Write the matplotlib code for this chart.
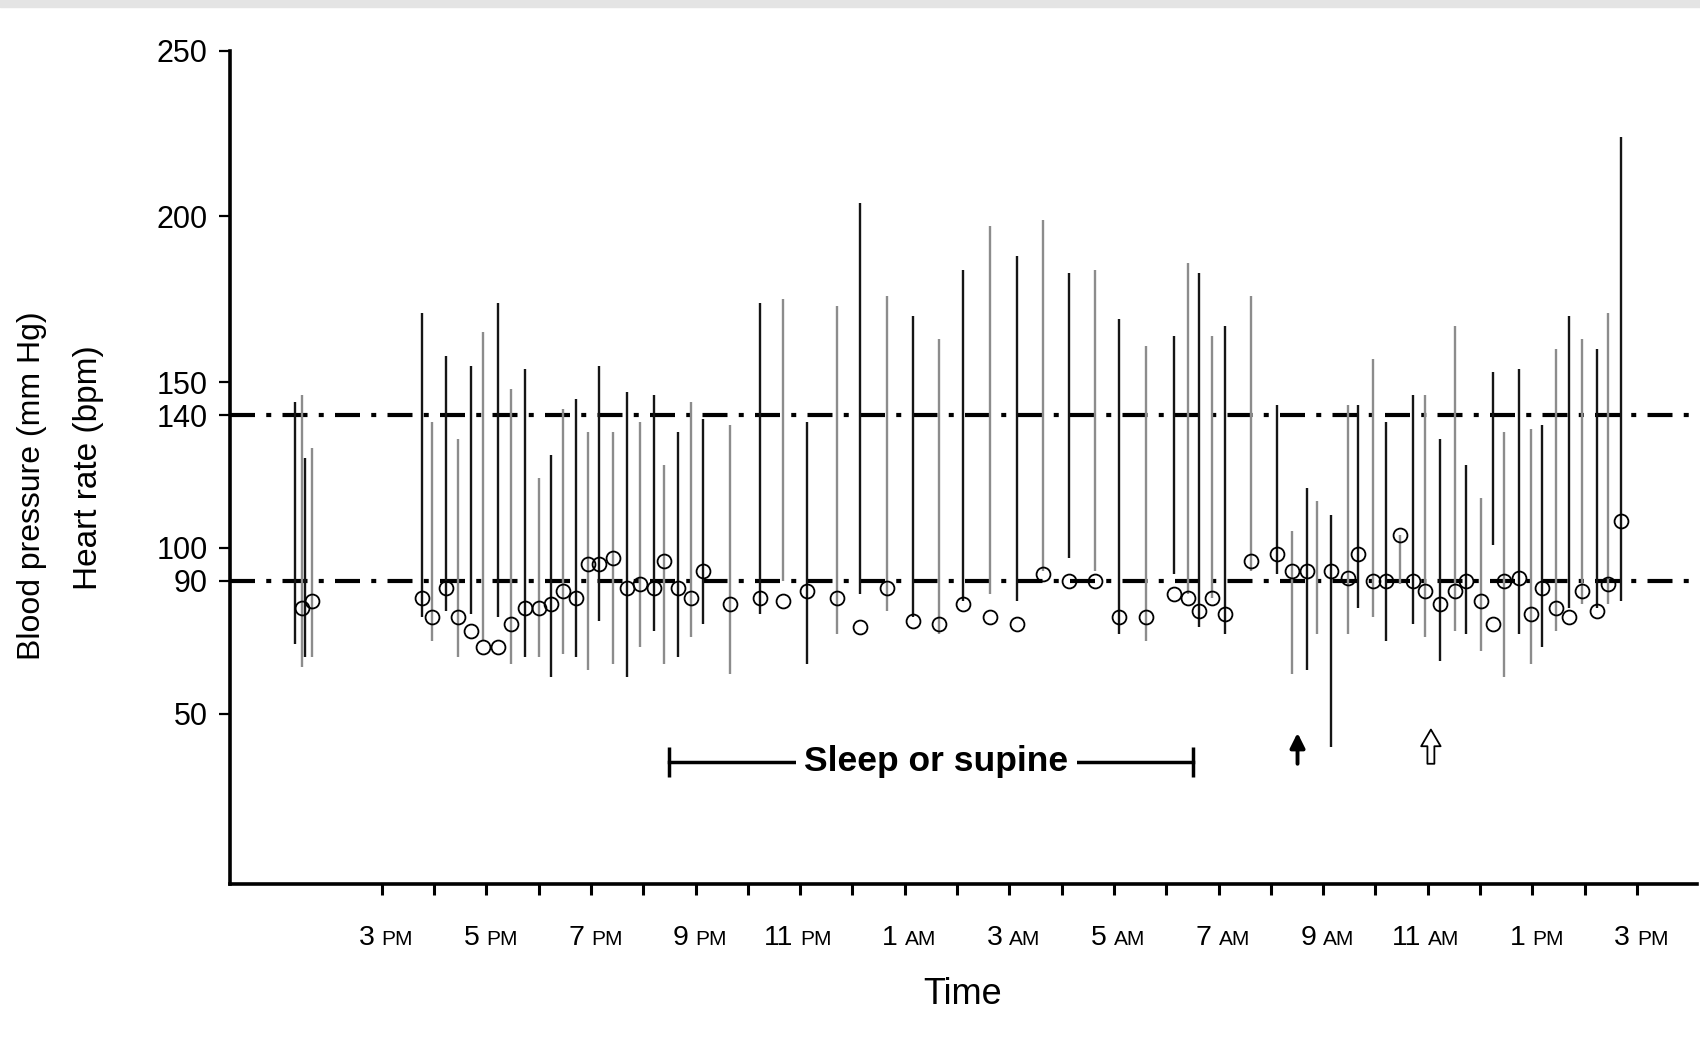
import numpy as np
import matplotlib.pyplot as plt

# readings: hour of day (12 = noon on day 1, 36 = noon on day 2)
time_h = [13.35, 13.47, 13.54, 13.66,
          15.78, 15.97, 16.22, 16.45, 16.70, 16.94, 17.23, 17.47, 17.74,
          18.01, 18.23, 18.46, 18.71, 18.95, 19.16, 19.43, 19.69, 19.93,
          20.21, 20.40, 20.67, 20.91, 21.15, 21.66, 22.23, 22.68, 23.14,
          23.70, 24.14, 24.67, 25.16, 25.66, 26.11, 26.63, 27.14, 27.65,
          28.14, 28.64, 29.10, 29.62, 30.15, 30.41, 30.63, 30.87, 31.13,
          31.63, 32.12, 32.41, 32.70, 32.89, 33.15, 33.47, 33.67, 33.96,
          34.20, 34.47, 34.72, 34.95, 35.23, 35.53, 35.73, 36.01, 36.25,
          36.46, 36.74, 36.97, 37.19, 37.46, 37.70, 37.94, 38.23, 38.45,
          38.69]
systolic = [144, 146, 127, 130,
            171, 138, 158, 133, 155, 165, 174, 148, 154,
            121, 128, 142, 145, 135, 155, 135, 147, 138,
            146, 125, 135, 144, 139, 137, 174, 175, 138,
            173, 204, 176, 170, 163, 184, 197, 188, 199,
            183, 184, 169, 161, 164, 186, 183, 164, 167,
            176, 143, 105, 118, 114, 110, 143, 143, 157,
            138, 104, 146, 146, 133, 167, 125, 115, 153,
            135, 154, 136, 137, 160, 170, 163, 160, 171,
            224]
diastolic = [71, 64, 67, 67,
             79, 72, 81, 67, 80, 72, 79, 65, 67,
             67, 61, 68, 67, 63, 78, 65, 61, 70,
             75, 65, 67, 73, 77, 62, 80, 90, 65,
             74, 86, 81, 79, 74, 84, 86, 84, 93,
             97, 93, 74, 72, 92, 86, 76, 85, 74,
             93, 92, 62, 63, 74, 40, 74, 82, 79,
             72, 89, 77, 73, 66, 75, 74, 69, 101,
             61, 74, 65, 70, 75, 82, 83, 82, 83,
             84]
heart_rate = [np.nan, 82, np.nan, 84,
              85, 79, 88, 79, 75, 70, 70, 77, 82,
              82, 83, 87, 85, 95, 95, 97, 88, 89,
              88, 96, 88, 85, 93, 83, 85, 84, 87,
              85, 76, 88, 78, 77, 83, 79, 77, 92,
              90, 90, 79, 79, 86, 85, 81, 85, 80,
              96, 98, 93, 93, np.nan, 93, 91, 98, 90,
              90, 104, 90, 87, 83, 87, 90, 84, 77,
              90, 91, 80, 88, 82, 79, 87, 81, 89,
              108]

hour_ticks = list(range(15, 40))
x_label_hours = [15, 17, 19, 21, 23, 25, 27, 29, 31, 33, 35, 37, 39]
x_label_nums = ['3', '5', '7', '9', '11', '1', '3', '5', '7', '9', '11', '1', '3']
x_label_ampm = ['PM', 'PM', 'PM', 'PM', 'PM', 'AM', 'AM', 'AM', 'AM', 'AM', 'AM', 'PM', 'PM']
y_ticks = [50, 90, 100, 140, 150, 200, 250]
limits = [140, 90]

sleep_start, sleep_end, sleep_y = 20.49, 30.52, 35.4
arrow_hours = [32.51, 35.06]

plt.rcParams['font.family'] = ['Liberation Sans', 'DejaVu Sans']

fig = plt.figure(figsize=(17, 10.37), dpi=100)
# faint grey strip left by the scan along the top edge
fig.patches.append(plt.Rectangle((0, 0.993), 1, 0.007, transform=fig.transFigure,
                                 color='#e4e4e4', zorder=0))
ax = fig.add_axes([0.1353, 0.148, 0.8627, 0.803])

# threshold lines
for lim in limits:
    ax.axhline(lim, color='black', lw=3, dashes=(6, 2.7, 1.2, 2.7), zorder=1)

# blood pressure ranges, alternating dark / grey like the scan
colors = ['#151515' if i % 2 == 0 else '#8c8c8c' for i in range(len(time_h))]
ax.vlines(time_h, diastolic, systolic, colors=colors, lw=1.7, zorder=2)

# heart rate
ax.plot(time_h, heart_rate, 'o', mfc='none', mec='black', ms=10, mew=1.3, zorder=3)

# sleep bar
ax.plot([sleep_start, sleep_end], [sleep_y, sleep_y], color='black', lw=2.5, zorder=2)
ax.plot([sleep_start, sleep_end], [sleep_y, sleep_y], linestyle='none', marker='|',
        ms=22, mew=2.5, color='black', zorder=2)
ax.text((sleep_start + sleep_end) / 2 + 0.1, sleep_y, 'Sleep or supine', fontsize=25.5,
        fontweight='bold', ha='center', va='center', zorder=3,
        bbox=dict(facecolor='white', edgecolor='none', pad=6))

# arrows
ax.annotate('', xy=(arrow_hours[0], 45), xytext=(arrow_hours[0], 34),
            arrowprops=dict(arrowstyle='-|>', lw=2.8, color='black', mutation_scale=22))
ax.annotate('', xy=(arrow_hours[1], 46), xytext=(arrow_hours[1], 34),
            arrowprops=dict(arrowstyle='simple,head_width=0.7,head_length=0.6,tail_width=0.25',
                            fc='white', ec='black', lw=1.3, mutation_scale=20))

ax.set_xlim(12.1, 40.14)
ax.set_ylim(-1.3, 250)

ax.spines['top'].set_visible(False)
ax.spines['right'].set_visible(False)
ax.spines['left'].set_linewidth(2.6)
ax.spines['bottom'].set_linewidth(2.6)

ax.set_xticks(hour_ticks)
ax.set_xticklabels([])
ax.tick_params(axis='x', direction='out', length=8, width=2.2)
ax.set_yticks(y_ticks)
ax.set_yticklabels([str(t) for t in y_ticks], fontsize=22)
ax.tick_params(axis='y', direction='out', length=8, width=1.6, pad=8)

for h, num, ampm in zip(x_label_hours, x_label_nums, x_label_ampm):
    ax.annotate(num, xy=(h, 0), xycoords=('data', 'axes fraction'), xytext=(-5, -44),
                textcoords='offset points', ha='right', va='baseline', fontsize=20.5)
    ax.annotate(ampm, xy=(h, 0), xycoords=('data', 'axes fraction'), xytext=(0, -44),
                textcoords='offset points', ha='left', va='baseline', fontsize=15)

fig.text(0.019, 0.532, 'Blood pressure (mm Hg)', rotation=90, ha='center', va='center', fontsize=23)
fig.text(0.052, 0.549, 'Heart rate (bpm)', rotation=90, ha='center', va='center', fontsize=24)
fig.text(0.566, 0.041, 'Time', ha='center', va='center', fontsize=26)

fig.savefig('out.png', dpi=100)
